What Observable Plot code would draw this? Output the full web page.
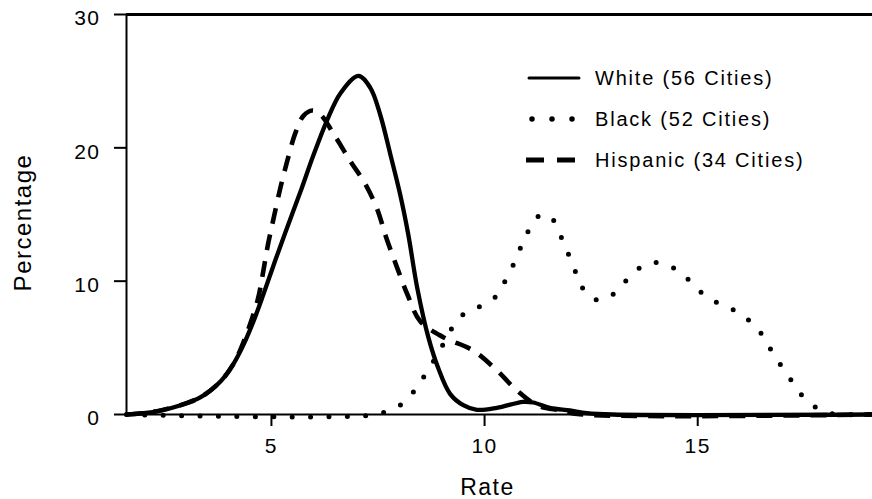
<!DOCTYPE html>
<html>
<head>
<meta charset="utf-8">
<script src="https://cdn.jsdelivr.net/npm/d3@7"></script>
<script src="https://cdn.jsdelivr.net/npm/@observablehq/plot@0.6"></script>
<style>
  html, body { margin: 0; padding: 0; background: #fff; overflow: hidden; }
</style>
</head>
<body>
<div id="chart"></div>
<script>
// ---- data ----
const seriesNames = ["White (56 Cities)", "Black (52 Cities)", "Hispanic (34 Cities)"];

const whiteRate = [1.6, 2.0, 2.4, 2.87, 3.34, 3.81, 4.11, 4.34, 4.58, 4.81, 5.05, 5.32, 5.68, 5.98, 6.31, 6.62, 7.04, 7.32, 7.55, 7.79, 8.02, 8.21, 8.42, 8.68, 8.91, 9.19, 9.5, 9.82, 10.29, 10.9, 11.14, 11.53, 12.0, 12.4, 13.0, 19.1];
const whitePct  = [0, 0.1, 0.3, 0.7, 1.3, 2.5, 3.8, 5.2, 7.0, 9.0, 11.2, 13.6, 16.7, 19.4, 22.1, 24.1, 25.4, 24.5, 22.5, 19.5, 16.5, 13.5, 9.5, 5.8, 3.5, 1.55, 0.7, 0.35, 0.5, 0.95, 0.9, 0.5, 0.3, 0.1, 0, 0];

const blackRate = [1.6, 7.5, 7.72, 8.07, 8.37, 8.61, 8.95, 9.24, 9.5, 9.89, 10.25, 10.48, 10.67, 10.83, 11.0, 11.23, 11.4, 11.56, 11.77, 11.93, 12.1, 12.24, 12.52, 12.87, 13.17, 13.48, 13.81, 14.0, 14.2, 14.58, 14.88, 15.21, 15.59, 15.98, 16.29, 16.55, 16.76, 16.99, 17.23, 17.48, 17.79, 18.1, 18.4, 19.1];
const blackPct  = [0, 0, 0.3, 0.8, 1.85, 3.0, 4.8, 6.5, 7.5, 8.1, 8.8, 10.0, 11.2, 12.4, 13.6, 14.8, 15.0, 14.8, 13.5, 12.3, 11.0, 9.8, 8.7, 8.7, 9.5, 10.6, 11.3, 11.4, 11.3, 10.7, 9.8, 8.8, 8.2, 7.6, 6.8, 5.8, 4.6, 3.5, 2.4, 1.3, 0.5, 0.1, 0, 0];

const hispRate = [1.6, 2.0, 2.4, 2.87, 3.34, 3.81, 4.11, 4.34, 4.67, 4.79, 4.91, 5.05, 5.21, 5.37, 5.56, 5.75, 5.96, 6.15, 6.45, 6.85, 7.2, 7.48, 7.69, 7.95, 8.19, 8.49, 9.03, 9.73, 10.29, 10.76, 11.23, 11.77, 12.3, 19.1];
const hispPct  = [0, 0.1, 0.3, 0.7, 1.3, 2.5, 3.8, 5.4, 8.5, 10.4, 12.6, 14.7, 17.0, 19.0, 21.1, 22.4, 22.8, 22.5, 21.1, 19.0, 17.3, 15.4, 13.3, 11.0, 9.0, 7.0, 5.8, 4.8, 3.3, 1.8, 0.7, 0.3, 0, 0];

const xDomain = [1.6, 19.1];
const yDomain = [0, 30];
const xTicks = [5, 10, 15];
const yTicks = [0, 10, 20, 30];
const xLabel = "Rate";
const yLabel = "Percentage";

// ---- build tables ----
const toRows = (xs, ys) => xs.map((x, i) => ({x, y: ys[i]}));
const white = toRows(whiteRate, whitePct);
const black = toRows(blackRate, blackPct);
const hisp  = toRows(hispRate, hispPct);

const styles = [
  {stroke: "#000", strokeWidth: 4.3, strokeDasharray: null, strokeLinecap: "round"},
  {stroke: "#000", strokeWidth: 5, strokeDasharray: "0 18.4", strokeLinecap: "round"},
  {stroke: "#000", strokeWidth: 4.6, strokeDasharray: "16 11", strokeLinecap: "butt"}
];

const svg = Plot.plot({
  width: 872,
  height: 499,
  marginLeft: 126,
  marginRight: 0,
  marginTop: 14,
  marginBottom: 85,
  style: {fontFamily: "'Liberation Sans', Arial, sans-serif", fontSize: "21px", letterSpacing: "1.5px", background: "#fff", color: "#000"},
  x: {domain: xDomain, label: null},
  y: {domain: yDomain, label: null},
  marks: [
    Plot.ruleY([yDomain[0]], {strokeWidth: 2}),
    Plot.ruleY([yDomain[1]], {strokeWidth: 3}),
    Plot.ruleX([xDomain[0]], {strokeWidth: 2}),
    Plot.axisY({ticks: yTicks, tickSize: 12, fill: "none", strokeWidth: 2, label: null}),
    Plot.axisY({ticks: yTicks, tickSize: 0, tickPadding: 26, dy: 4, fontSize: 21, label: null}),
    Plot.axisX({ticks: xTicks, tickSize: 12, tickPadding: 12, strokeWidth: 2, fontSize: 21, label: null}),
    Plot.line(white, {x: "x", y: "y", curve: "catmull-rom", ...styles[0]}),
    Plot.line(black, {x: "x", y: "y", curve: "catmull-rom", ...styles[1]}),
    Plot.line(hisp,  {x: "x", y: "y", curve: "catmull-rom", ...styles[2]}),
    Plot.text([xLabel], {frameAnchor: "bottom", textAnchor: "middle", lineAnchor: "middle", dy: 73, dx: -12, fontSize: 23}),
    Plot.text([yLabel], {frameAnchor: "left", textAnchor: "middle", lineAnchor: "middle", rotate: -90, dx: -103, dy: 8, fontSize: 24})
  ]
});

// ---- legend (inside plot, upper right) ----
const legendLayout = {x1: 529, x2: 579, textX: 595, rows: [78, 119, 160]};
const lg = d3.select(svg).append("g").attr("class", "legend").attr("text-anchor", "start");
seriesNames.forEach((name, i) => {
  const y = legendLayout.rows[i];
  const s = styles[i];
  const ln = lg.append("line")
    .attr("x1", legendLayout.x1 + (i === 1 ? 3 : 0))
    .attr("x2", legendLayout.x2 - (i === 1 ? 6 : 0))
    .attr("y1", y).attr("y2", y)
    .attr("stroke", s.stroke)
    .attr("stroke-width", i === 0 ? 3 : (i === 1 ? 5.5 : 5))
    .attr("stroke-linecap", s.strokeLinecap);
  if (i === 1) ln.attr("stroke-dasharray", "0 20");
  if (i === 2) ln.attr("stroke-dasharray", "18 13").attr("x1", legendLayout.x1 - 3);
  lg.append("text")
    .attr("x", legendLayout.textX)
    .attr("y", y)
    .attr("dy", "0.35em")
    .attr("font-size", 20)
    .attr("letter-spacing", "1.8px")
    .attr("fill", "#000")
    .text(name);
});

document.getElementById("chart").appendChild(svg);
</script>
</body>
</html>
